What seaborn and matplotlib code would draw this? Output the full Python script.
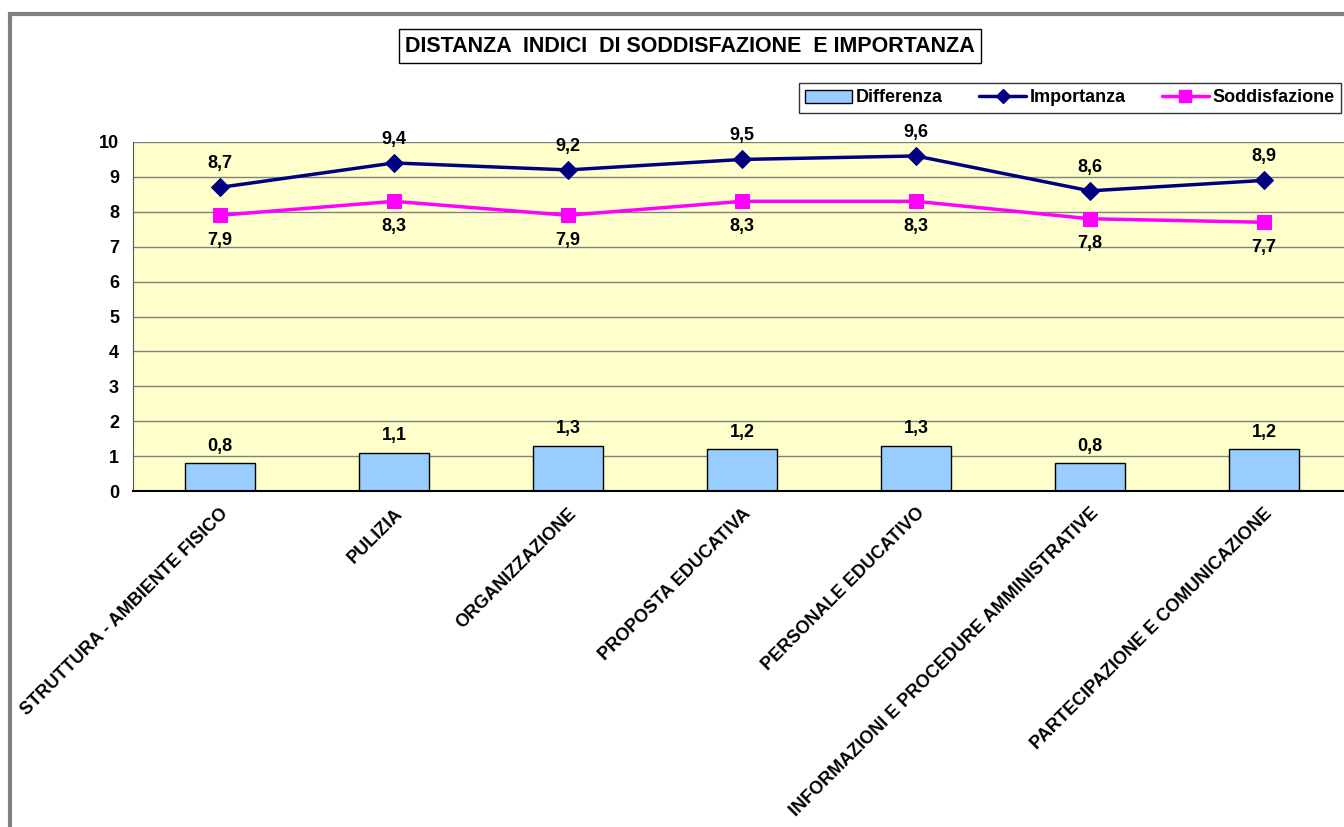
import numpy as np
import pandas as pd
import seaborn as sns
import matplotlib.pyplot as plt
from matplotlib.patches import Patch, Rectangle
from matplotlib.lines import Line2D

# data
categorie = ['STRUTTURA - AMBIENTE FISICO', 'PULIZIA', 'ORGANIZZAZIONE',
             'PROPOSTA EDUCATIVA', 'PERSONALE EDUCATIVO',
             'INFORMAZIONI E PROCEDURE AMMINISTRATIVE',
             'PARTECIPAZIONE E COMUNICAZIONE']
importanza = [8.7, 9.4, 9.2, 9.5, 9.6, 8.6, 8.9]
soddisfazione = [7.9, 8.3, 7.9, 8.3, 8.3, 7.8, 7.7]
differenza = [0.8, 1.1, 1.3, 1.2, 1.3, 0.8, 1.2]

df = pd.DataFrame({'cat': categorie, 'imp': importanza,
                   'sod': soddisfazione, 'diff': differenza})

sns.set_style('white')
plt.rcParams['font.family'] = ['Liberation Sans', 'DejaVu Sans']
plt.rcParams['font.weight'] = 'bold'
plt.rcParams['text.color'] = 'black'
plt.rcParams['xtick.color'] = 'black'
plt.rcParams['ytick.color'] = 'black'

fig = plt.figure(figsize=(13.44, 8.27), dpi=100)
ax = fig.add_axes([133 / 1344, 336 / 827, 1218 / 1344, 349 / 827])
ax.set_facecolor('#FFFFCC')

BAR = '#99CCFF'
NAVY = '#000080'
MAGENTA = '#FF00FF'

sns.barplot(data=df, x='cat', y='diff', color=BAR, saturation=1,
            edgecolor='black', linewidth=1, width=0.4, ax=ax, zorder=2)
sns.lineplot(data=df, x='cat', y='imp', color=NAVY, lw=2.5, marker='D',
             markersize=9, markeredgecolor=NAVY, ax=ax, zorder=4, sort=False)
sns.lineplot(data=df, x='cat', y='sod', color=MAGENTA, lw=2.5, marker='s',
             markersize=10, markeredgecolor=MAGENTA, ax=ax, zorder=3, sort=False)

def fmt(v):
    return f'{v:.1f}'.replace('.', ',')

for i, r in df.iterrows():
    ax.annotate(fmt(r['imp']), (i, r['imp']), xytext=(0, 17), textcoords='offset points',
                ha='center', va='center', fontsize=13, fontweight='bold')
    ax.annotate(fmt(r['sod']), (i, r['sod']), xytext=(0, -18), textcoords='offset points',
                ha='center', va='center', fontsize=13, fontweight='bold')
    ax.annotate(fmt(r['diff']), (i, r['diff']), xytext=(0, 12), textcoords='offset points',
                ha='center', va='center', fontsize=13, fontweight='bold')

ax.set_ylim(0, 10)
ax.set_xlim(-0.5, len(categorie) - 0.5)
ax.set_yticks(range(0, 11))
ax.yaxis.grid(True, color='#808080', lw=1)
ax.set_axisbelow(True)
ax.set_xlabel('')
ax.set_ylabel('')

ax.set_xticks(range(len(categorie)))
ax.set_xticklabels(categorie, rotation=45, ha='right', va='top',
                   rotation_mode='anchor', fontsize=13, fontweight='bold')
ax.set_xticks(np.arange(-0.5, len(categorie)), minor=True)
ax.tick_params(axis='x', which='major', length=0, pad=10)
ax.tick_params(axis='x', which='minor', length=6, width=1, color='#555555', direction='out')
ax.tick_params(axis='y', length=6, width=1, color='#555555', direction='out', pad=4,
               labelsize=13, labelcolor='black')
for lab in ax.get_yticklabels():
    lab.set_fontweight('bold')

for s in ['top', 'right']:
    ax.spines[s].set_visible(False)
ax.spines['left'].set_color('#555555')
ax.spines['bottom'].set_color('black')
ax.spines['bottom'].set_linewidth(1.5)

# legend
handles = [Patch(facecolor=BAR, edgecolor='black', lw=1),
           Line2D([], [], color=NAVY, lw=2.5, marker='D', markersize=7),
           Line2D([], [], color=MAGENTA, lw=2.5, marker='s', markersize=8)]
leg = fig.legend(handles, ['Differenza', 'Importanza', 'Soddisfazione'],
                 loc='center', bbox_to_anchor=(1070 / 1344, 1 - 98 / 827),
                 ncol=3, frameon=True, fancybox=False, edgecolor='black',
                 prop={'weight': 'bold', 'size': 13}, handlelength=2.6,
                 handletextpad=0.2, columnspacing=2.0, borderpad=0.35)
leg.get_frame().set_linewidth(1)

# title box
fig.text(690 / 1344, 1 - 46 / 827, 'DISTANZA  INDICI  DI SODDISFAZIONE  E IMPORTANZA',
         ha='center', va='center', fontsize=15.5, fontweight='bold',
         bbox=dict(boxstyle='square,pad=0.3', facecolor='white', edgecolor='black', lw=1))

# outer chart-area border
fig.add_artist(Rectangle((10 / 1344, -0.1), 1.2, (827 - 14) / 827 + 0.1,
                         transform=fig.transFigure, fill=False,
                         edgecolor='#808080', lw=3))

fig.savefig('out.png', dpi=100)
